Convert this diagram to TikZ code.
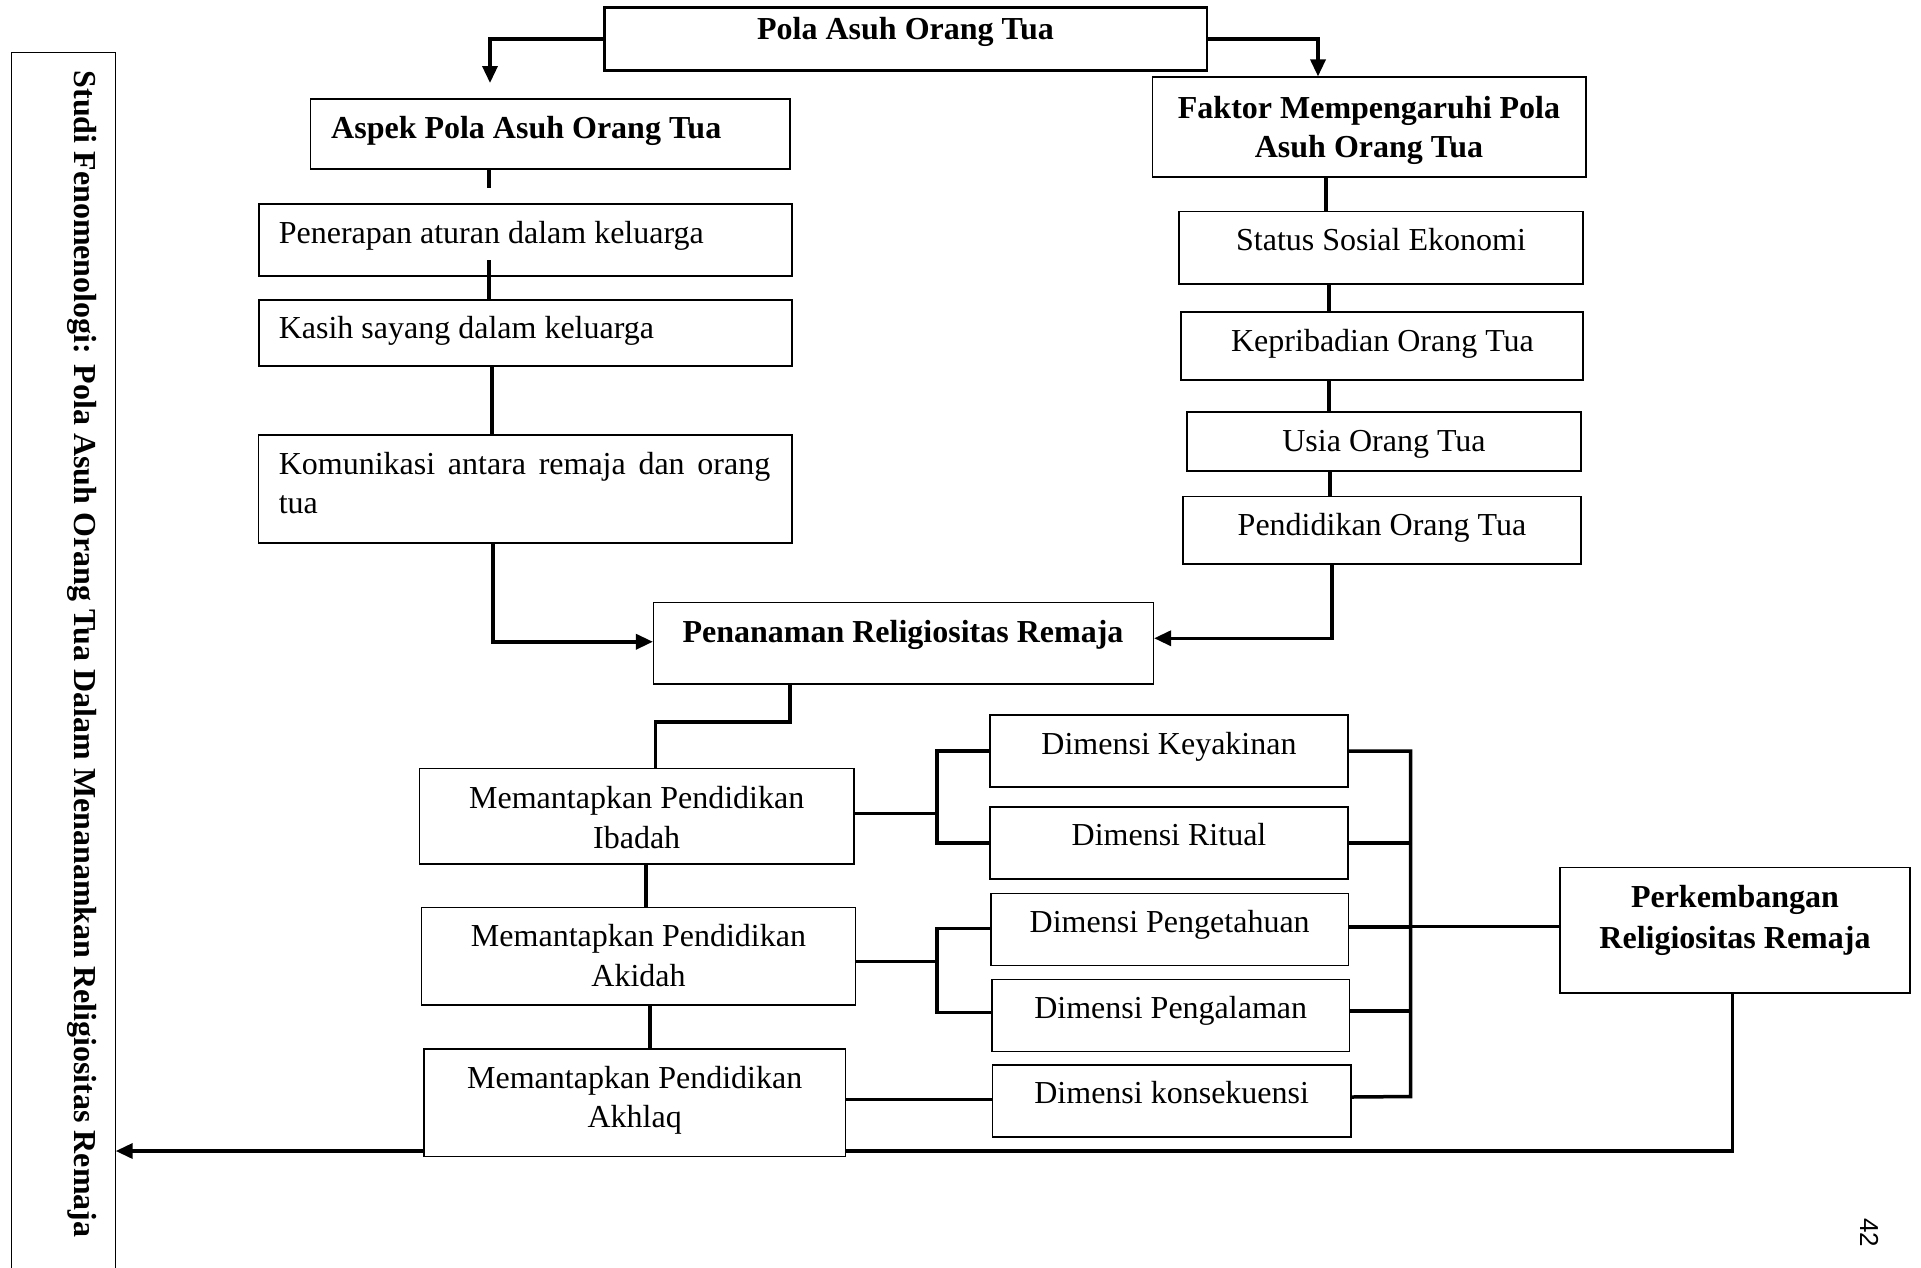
\documentclass[tikz,border=0pt]{standalone}
\usepackage{fontspec}
\setmainfont{Liberation Serif}
\newfontfamily\pagenumfont{Liberation Sans}
\usetikzlibrary{arrows.meta}

% \mkbox{style}{name}{x1}{y1}{x2}{y2}: a box given by its corners
\newcommand\mkbox[6]{%
  \pgfmathsetmacro\bxw{#5-#3}%
  \pgfmathsetmacro\bxh{#6-#4}%
  \node[#1, minimum width=\bxw pt, minimum height=\bxh pt] (#2) at ({(#3+#5)/2},{(#4+#6)/2}) {};%
}

\tikzset{
  box/.style={draw=black, line width=1.2pt, fill=white, inner sep=0pt, rectangle},
  boxthick/.style={box, line width=2.6pt},
  conn/.style={line width=3.5pt, black},
  arr/.style={conn, -{Triangle[length=17pt,width=15pt]}},
  lbl/.style={font=\fontsize{32}{39}\selectfont, inner sep=0pt, anchor=base},
  blbl/.style={lbl, font=\fontsize{32}{39}\selectfont\bfseries},
}

\begin{document}
\begin{tikzpicture}[x=1pt, y=-1pt]
\useasboundingbox (0,0) rectangle (1921,1267);
\clip (0,0) rectangle (1921,1267);
\fill[white] (0,0) rectangle (1921,1267);

% ---- boxes ----
\node[box, anchor=north west, minimum width=104pt, minimum height=1300pt] (studi) at (10.5,51.7) {};
\mkbox{boxthick}{pola}{604.5}{7.5}{1207}{70.5}
\mkbox{box}{aspek}{310.5}{99}{790}{169}
\mkbox{box}{penerapan}{259}{204}{792}{276}
\mkbox{box}{kasih}{259}{300}{792}{366}
\mkbox{box}{komunikasi}{258.5}{435}{792}{543}
\mkbox{box}{faktor}{1152.5}{77}{1586}{177}
\mkbox{box}{status}{1179}{211.5}{1583}{284}
\mkbox{box}{kepribadian}{1181}{312}{1583}{380}
\mkbox{box}{usia}{1187}{412}{1581}{471}
\mkbox{box}{pendidikan}{1183}{496.5}{1581}{564}
\mkbox{box}{penanaman}{653.5}{602.5}{1153.5}{684}
\mkbox{box}{ibadah}{419.5}{768.5}{854}{864}
\mkbox{box}{akidah}{421.5}{907.5}{855.5}{1005}
\mkbox{box}{akhlaq}{424}{1049}{845.5}{1156.5}
\mkbox{box}{keyakinan}{990}{715}{1348}{787}
\mkbox{box}{ritual}{990}{807}{1348}{879}
\mkbox{box}{pengetahuan}{991}{893.5}{1348.5}{965.5}
\mkbox{box}{pengalaman}{992}{979.5}{1349.5}{1051.5}
\mkbox{box}{konsekuensi}{992.5}{1065}{1351}{1137}
\mkbox{box}{perkembangan}{1560}{867.5}{1910}{993}

% ---- free ends of connectors ----
\coordinate (aspekend) at (490,83);
\coordinate (stubend) at (489,188);
\coordinate (penin) at (489,260);
\coordinate (jog) at (790,722);

% ---- connectors: top ----
\draw[arr] (pola.west) -| (aspekend);
\draw[arr] (pola.east) -| (faktor.north -| 1318,0);

% left column
\draw[conn] (aspek.south -| stubend) -- (stubend);
\draw[conn] (penin) -- (kasih.north -| penin);
\draw[conn] (kasih.south -| 492,0) -- (komunikasi.north -| 492,0);
\draw[arr] (komunikasi.south -| 493,0) |- ([yshift=1.5pt]penanaman.west);

% right column
\draw[conn] (faktor.south -| 1326,0) -- (status.north -| 1326,0);
\draw[conn] (status.south -| 1329,0) -- (kepribadian.north -| 1329,0);
\draw[conn] (kepribadian.south -| 1329,0) -- (usia.north -| 1329,0);
\draw[conn] (usia.south -| 1330,0) -- (pendidikan.north -| 1330,0);
\draw[arr] (pendidikan.south -| 1332,0) |- ([yshift=5pt]penanaman.east);

% centre column
\draw[conn] (penanaman.south -| jog) -- (jog) -- (jog -| 655.5,0) -- (ibadah.north -| 655.5,0);
\draw[conn] (ibadah.south -| 646,0) -- (akidah.north -| 646,0);
\draw[conn] (akidah.south -| 650,0) -- (akhlaq.north -| 650,0);

% brackets to the dimensions
\draw[conn] ([yshift=3pt]ibadah.east) -- ++(83.5,0);
\draw[conn] (keyakinan.west) -- ++(-52.5,0) |- (ritual.west);
\draw[conn] ([yshift=-5pt]akidah.east) -- ++(82,0);
\draw[conn] ([yshift=1pt]pengetahuan.west) -- ++(-53.5,0) |- ([yshift=3pt]pengalaman.west);
\draw[conn] ([yshift=3.5pt]akhlaq.east) -- ++(147,0);

% bus on the right
\draw[conn] (keyakinan.east) -- ++(62,0) -- ++(0,345.5) -- ([yshift=4pt]konsekuensi.east);
\draw[conn] (ritual.east) -- ++(62,0);
\draw[conn] ([yshift=2.5pt]pengetahuan.east) -- ++(61.5,0);
\draw[conn] ([yshift=4.5pt]pengalaman.east) -- ++(60.5,0);
\draw[conn] ([yshift=4pt]perkembangan.west) -- ++(-150,0);

% return line to the left
\draw[conn] ([xshift=-2.5pt]perkembangan.south) |- ([yshift=-48.25pt]akhlaq.east);
\draw[arr] ([yshift=-48.25pt]akhlaq.west) -- (studi.east |- 0,1151);

% ---- texts (multi-line nodes are placed by the baseline of their last line) ----
\node[blbl, rotate=-90] (studitxt) at (74.5,654)
  {\fontsize{32}{38}\selectfont Studi Fenomenologi: Pola Asuh Orang Tua Dalam Menanamkan Religiositas Remaja};
\node[blbl] (polatxt) at (905.5,39.3) {Pola Asuh Orang Tua};
\node[blbl, anchor=base west] (aspektxt) at (331,138.5) {Aspek Pola Asuh Orang Tua};
\node[lbl, anchor=base west] (penerapantxt) at (278.6,243) {Penerapan aturan dalam keluarga};
\node[lbl, anchor=base west] (kasihtxt) at (278.6,338) {Kasih sayang dalam keluarga};
\node[lbl, anchor=base west, align=left] (komunikasitxt) at (278.6,513)
  {\hbox to 491.4pt{Komunikasi\hfill antara\hfill remaja\hfill dan\hfill orang}\\tua};
\node[blbl, align=center, font=\fontsize{32}{39}\selectfont\bfseries] (faktortxt) at (1369,157)
  {Faktor Mempengaruhi Pola\\Asuh Orang Tua};
\node[lbl] (statustxt) at (1381,250.5) {Status Sosial Ekonomi};
\node[lbl] (kepribadiantxt) at (1382.5,351) {Kepribadian Orang Tua};
\node[lbl] (usiatxt) at (1384,451.5) {Usia Orang Tua};
\node[lbl] (pendidikantxt) at (1382,535.5) {Pendidikan Orang Tua};
\node[blbl] (penanamantxt) at (903,642.5) {Penanaman Religiositas Remaja};
\node[lbl, align=center, font=\fontsize{32}{40}\selectfont] (ibadahtxt) at (636.7,848.3)
  {Memantapkan Pendidikan\\Ibadah};
\node[lbl, align=center, font=\fontsize{32}{40}\selectfont] (akidahtxt) at (638.5,986.7)
  {Memantapkan Pendidikan\\Akidah};
\node[lbl, align=center, font=\fontsize{32}{39}\selectfont] (akhlaqtxt) at (634.7,1127)
  {Memantapkan Pendidikan\\Akhlaq};
\node[lbl] (keyakinantxt) at (1169,754) {Dimensi Keyakinan};
\node[lbl] (ritualtxt) at (1169,845.7) {Dimensi Ritual};
\node[lbl] (pengetahuantxt) at (1169.7,932) {Dimensi Pengetahuan};
\node[lbl] (pengalamantxt) at (1170.7,1018) {Dimensi Pengalaman};
\node[lbl] (konsekuensitxt) at (1171.7,1103) {Dimensi konsekuensi};
\node[blbl, align=center, font=\fontsize{32}{41}\selectfont\bfseries] (perkembangantxt) at (1735,948)
  {Perkembangan\\Religiositas Remaja};
\node[inner sep=0pt, anchor=base, rotate=-90, font=\pagenumfont\fontsize{26}{30}\selectfont] (pagenum) at (1860,1232.5) {42};
\end{tikzpicture}
\end{document}
